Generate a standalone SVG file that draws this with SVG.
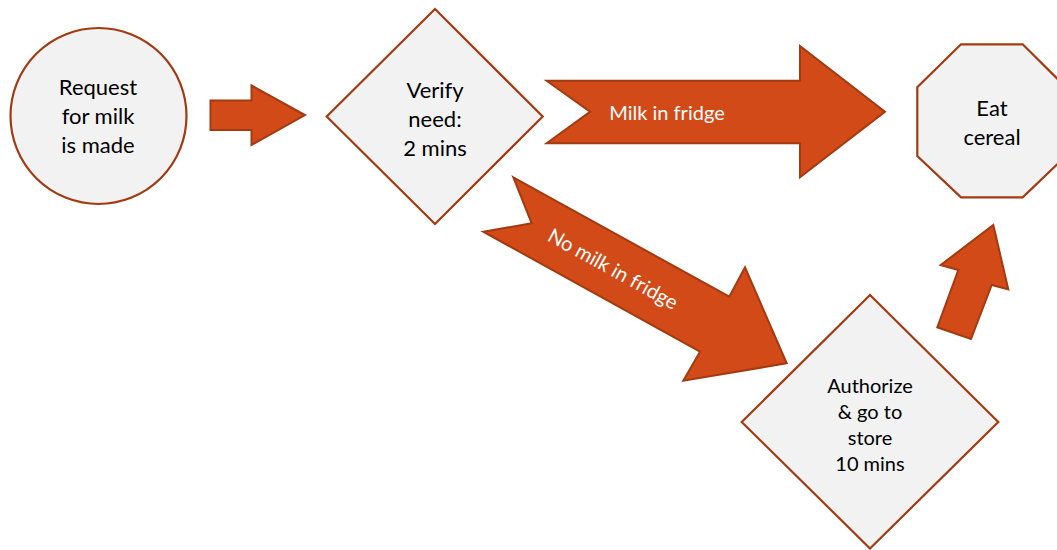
<svg xmlns="http://www.w3.org/2000/svg" width="1057" height="550" viewBox="0 0 1057 550">
<style>
.node{fill:#F2F2F2;stroke:#A23B12;stroke-width:2.2}
.arrow{fill:#D24A17;stroke:#A33A10;stroke-width:2}
.t{font-family:Lato,"Liberation Sans",sans-serif;fill:#000;text-anchor:middle}
.big{font-size:22px}
.small{font-size:20px}
.w{font-family:Lato,"Liberation Sans",sans-serif;fill:#FFFFFF;font-size:20px}
</style>
<rect width="1057" height="550" fill="#FFFFFF"/>
<g id="connectors">
<polygon class="arrow" points="210.5,100.5 251.5,100.5 251.5,85.5 305,115 251.5,145 251.5,130 210.5,130"/>
<polygon class="arrow" points="546.7,80.7 800,80.7 800,46 885,111.7 800,177.3 800,143.3 546.7,143.3 590,111.7"/>
<polygon class="arrow" points="513.3,177.3 729.3,296.7 745,267.3 786.7,363.3 683.3,380.7 700,351.7 483.3,231.7 531.7,223.3"/>
<polygon class="arrow" points="993.3,225 1008.3,289.3 991.7,285 971,339 937.3,327.3 958.3,270 940.7,265"/>
<text class="w" x="667" y="120" text-anchor="middle">Milk in fridge</text>
<text class="w" transform="translate(613,269) rotate(29)" x="0" y="7" text-anchor="middle">No milk in fridge</text>
</g>
<g id="request">
<circle class="node" cx="98.5" cy="116" r="88"/>
<text class="t big" x="98" y="95">Request</text>
<text class="t big" x="98" y="124">for milk</text>
<text class="t big" x="98" y="153">is made</text>
</g>
<g id="verify">
<polygon class="node" points="435,9 542.7,116.5 435,224 326.7,116.5"/>
<text class="t big" x="435" y="98">Verify</text>
<text class="t big" x="435" y="127">need:</text>
<text class="t big" x="435" y="156">2 mins</text>
</g>
<g id="eat">
<polygon class="node" points="961,44.3 1022.7,44.3 1066,87.3 1066,156 1022.7,197.3 961,197.3 917.3,156 917.3,87.3"/>
<text class="t big" x="992" y="116">Eat</text>
<text class="t big" x="992" y="145">cereal</text>
</g>
<g id="authorize">
<polygon class="node" points="870,295 998.3,422 870,548.5 741.7,422"/>
<text class="t small" x="870" y="392.5">Authorize</text>
<text class="t small" x="870" y="418.5">&amp; go to</text>
<text class="t small" x="870" y="444.5">store</text>
<text class="t small" x="870" y="470.5">10 mins</text>
</g>
</svg>
